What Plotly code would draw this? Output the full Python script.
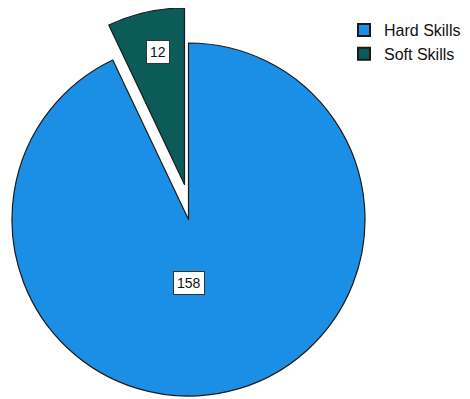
import math
import plotly.graph_objects as go

# ---- data ----
labels = ["Hard Skills", "Soft Skills"]
values = [158, 12]
colors = ["#1b8fe6", "#0b5c58"]

# ---- layout constants (window pixels) ----
OFF = 8                      # default page body margin
W, H = 470 - OFF, 399 - OFF  # figure size so it fits the window
R = 176.5
CX, CY = 188.5 - OFF, 219.5 - OFF    # centre of the main pie (figure px)
SCX, SCY = R, R                      # centre of the pulled slice (figure px)
LINE = "#1a1a1a"
TRANSPARENT = "rgba(0,0,0,0)"
FONT = "Liberation Sans, Arial, sans-serif"

total = sum(values)
soft_angle = values[1] / total * 2 * math.pi   # soft slice sits left of 12 o'clock


def domain(cx, cy):
    return dict(x=[max(0.0, (cx - R) / W), min(1.0, (cx + R) / W)],
                y=[max(0.0, 1 - (cy + R) / H), min(1.0, 1 - (cy - R) / H)])


def px_to_paper(x, y):
    return x / W, 1 - y / H


common = dict(labels=labels, values=values, sort=False, direction="clockwise",
              rotation=0, textinfo="none", hoverinfo="skip", showlegend=False)

fig = go.Figure()
# main (hard) pie, soft slice hidden
fig.add_trace(go.Pie(
    **common,
    marker=dict(colors=[colors[0], TRANSPARENT], line=dict(color=LINE, width=[1.2, 0])),
    domain=domain(CX, CY),
))
# pulled (soft) slice
fig.add_trace(go.Pie(
    **common,
    marker=dict(colors=[TRANSPARENT, colors[1]], line=dict(color=LINE, width=[0, 1.2])),
    domain=domain(SCX, SCY),
))

# legend entries
for name, c in zip(labels, colors):
    fig.add_trace(go.Scatter(
        x=[None], y=[None], mode="markers", name=name,
        marker=dict(symbol="square", size=16, color=c, line=dict(color=LINE, width=1)),
    ))

# value labels
annotations = []
lab_ang = soft_angle * 0.45
sx = SCX - math.sin(lab_ang) * 0.768 * R
sy = SCY - math.cos(lab_ang) * 0.768 * R
hx, hy = CX, CY + 0.36 * R
for (x, y), v in [((sx, sy), values[1]), ((hx, hy), values[0])]:
    px, py = px_to_paper(x, y)
    annotations.append(dict(
        x=px, y=py, xref="paper", yref="paper", xanchor="center", yanchor="middle",
        text=str(v), showarrow=False,
        font=dict(family=FONT, size=14, color="#111111"),
        bgcolor="white", bordercolor="#333333", borderwidth=1, borderpad=3,
    ))

fig.update_layout(
    width=W, height=H, margin=dict(l=0, r=0, t=0, b=0),
    paper_bgcolor="white", plot_bgcolor="white",
    xaxis=dict(visible=False), yaxis=dict(visible=False),
    showlegend=True,
    legend=dict(x=336 / W, y=1 - 5 / H, xanchor="left", yanchor="top",
                font=dict(family=FONT, size=16, color="#111111"),
                itemsizing="constant", bgcolor="rgba(0,0,0,0)"),
    annotations=annotations,
)

fig.write_html("out.html")
